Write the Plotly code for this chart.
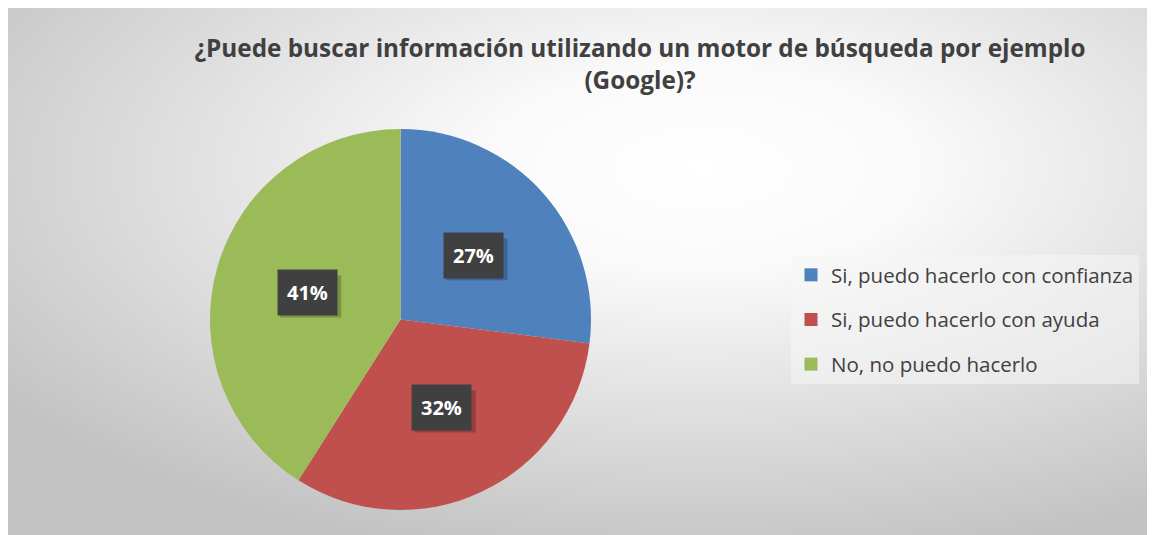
import base64, math
import plotly.graph_objects as go

categories = ["Si, puedo hacerlo con confianza", "Si, puedo hacerlo con ayuda", "No, no puedo hacerlo"]
values = [27, 32, 41]
colors = ["#4F81BD", "#C0504D", "#9BBB59"]
title_text = "¿Puede buscar información utilizando un motor de búsqueda por ejemplo<br>(Google)?"

W, H = 1155, 535
OFF = 8  # page body margin: figure is drawn 8px right/down of the window corner
FONT = "Open Sans"


def fx(px):  # screen pixel x -> paper fraction
    return (px - OFF) / W


def fy(py):  # screen pixel y -> paper fraction
    return 1 - (py - OFF) / H


svg = ("<svg xmlns='http://www.w3.org/2000/svg' width='1160' height='540' preserveAspectRatio='none'>"
       "<defs><radialGradient id='g' cx='60%' cy='30%' r='75%'>"
       "<stop offset='0' stop-color='#ffffff'/><stop offset='0.25' stop-color='#fafafa'/>"
       "<stop offset='1' stop-color='#c2c2c2'/></radialGradient></defs>"
       "<rect width='100%' height='100%' fill='url(#g)'/></svg>")
bg_uri = "data:image/svg+xml;base64," + base64.b64encode(svg.encode()).decode()

# pie geometry in screen pixels
cx_px, cy_px, r_px = 400.5, 319.5, 190.5
dom_x = [fx(cx_px - r_px), fx(cx_px + r_px)]
dom_y = [fy(cy_px + r_px), fy(cy_px - r_px)]

fig = go.Figure()
fig.add_trace(go.Pie(
    labels=categories, values=values, sort=False, direction="clockwise", rotation=0,
    marker=dict(colors=colors, line=dict(width=0)),
    textinfo="none", hoverinfo="label+percent", showlegend=False,
    domain=dict(x=dom_x, y=dom_y),
))

# legend entries
for i, (c, col) in enumerate(zip(categories, colors)):
    fig.add_trace(go.Scatter(
        x=[None], y=[None], mode="markers", name=c, legendgroup=str(i),
        marker=dict(symbol="square", size=13, color=col), hoverinfo="skip",
    ))

# data labels as boxed annotations, with a soft drop shadow shape
total = sum(values)
cum = 0
shapes = []
for v in values:
    mid = cum + v / 2
    cum += v
    ang = math.radians(90 - mid / total * 360)
    rr = 0.51 * r_px
    px = cx_px + rr * math.cos(ang)
    py = cy_px - rr * math.sin(ang)
    txt = f"{round(v / total * 100)}%"
    shapes.append(dict(type="rect", xref="paper", yref="paper", xsizemode="pixel", ysizemode="pixel",
                       xanchor=fx(px), yanchor=fy(py), x0=-27, x1=34, y0=-25, y1=17,
                       fillcolor="rgba(0,0,0,0.22)", line=dict(width=0), layer="above"))
    fig.add_annotation(x=fx(px), y=fy(py), xref="paper", yref="paper", showarrow=False,
                       xanchor="center", yanchor="middle",
                       borderpad=9, font=dict(family=FONT, size=20, color="white"),
                       text=f"<b>{txt}</b>", bgcolor="#404040")

fig.update_layout(
    width=W, height=H,
    margin=dict(l=0, r=0, t=0, b=0),
    paper_bgcolor="white", plot_bgcolor="rgba(0,0,0,0)",
    xaxis=dict(visible=False), yaxis=dict(visible=False),
    title=dict(text=f"<b>{title_text}</b>", x=fx(640), xanchor="center", y=fy(57), yanchor="middle",
               font=dict(family=FONT, size=24.3, color="#404040")),
    legend=dict(x=fx(791), y=fy(255), xanchor="left", yanchor="top",
                bgcolor="rgba(245,245,245,0.55)", font=dict(family=FONT, size=20.5, color="#404040"),
                tracegroupgap=15, itemclick=False),
    images=[dict(source=bg_uri, xref="paper", yref="paper", x=0, y=1,
                 sizex=1, sizey=1, sizing="stretch", layer="below",
                 xanchor="left", yanchor="top")],
    shapes=shapes,
    showlegend=True,
)

fig.write_html("out.html")
